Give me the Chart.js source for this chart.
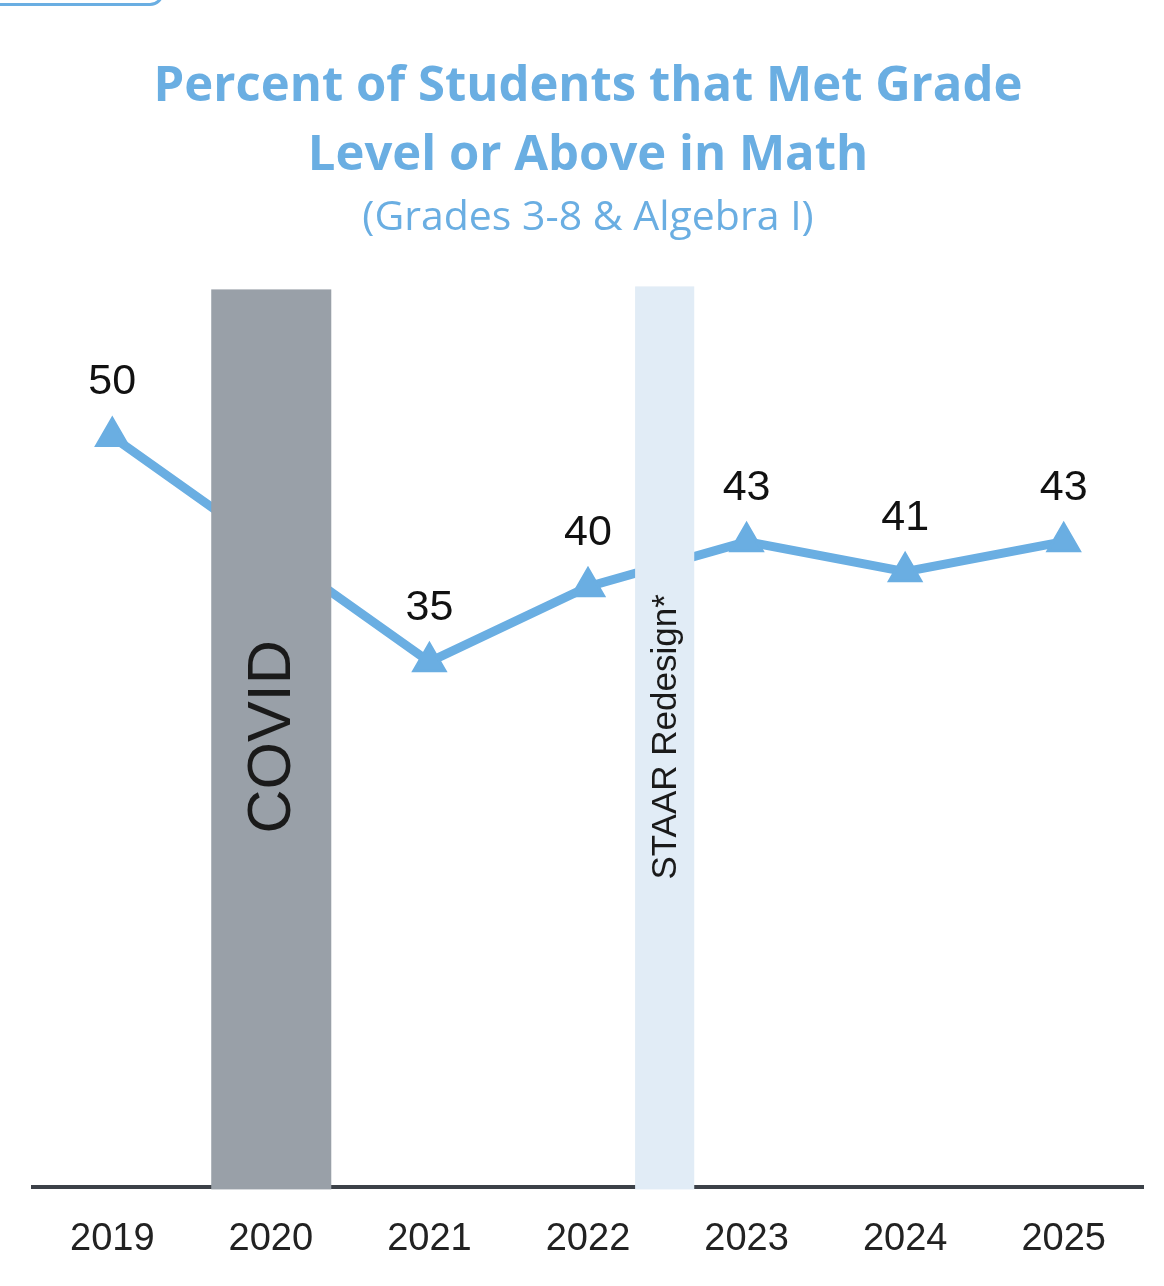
<!DOCTYPE html>
<html>
<head>
<meta charset="utf-8">
<script src="https://cdn.jsdelivr.net/npm/chart.js@4/dist/chart.umd.min.js"></script>
<style>
  html, body { margin: 0; padding: 0; background: #fff; }
  #wrap { position: relative; width: 1164px; height: 1286px; overflow: hidden; }
  #tab { position: absolute; left: -20px; top: -22px; width: 178px; height: 22px;
         border: 3px solid #6aaee2; border-radius: 14px; }
</style>
</head>
<body>
<div id="wrap">
  <div id="tab"></div>
  <canvas id="chart" width="1164" height="1320"></canvas>
</div>
<script>
const years = ['2019', '2020', '2021', '2022', '2023', '2024', '2025'];
const metGrade = [50, null, 35, 40, 43, 41, 43];

// shaded periods, in category units along x and value units along y
const bandNames = ['COVID', 'STAAR Redesign*'];
const bandFrom = [0.624, 3.297];
const bandTo = [1.381, 3.67];
const bandTop = [59.8, 60];

const BLUE = '#6aaee2';

const bandsPlugin = {
    id: 'bands',
    afterDatasetsDraw(chart) {
        const { ctx, scales: { x, y } } = chart;
        const fills = ['#99a0a8', '#e1ecf6'];
        const fonts = ['61px "Liberation Sans", Arial, sans-serif', '35px "Liberation Sans", Arial, sans-serif'];
        bandNames.forEach((name, i) => {
            const left = x.getPixelForValue(bandFrom[i]);
            const right = x.getPixelForValue(bandTo[i]);
            const top = y.getPixelForValue(bandTop[i]);
            const bottom = y.getPixelForValue(0) + 2;
            ctx.save();
            ctx.fillStyle = fills[i];
            ctx.fillRect(left, top, right - left, bottom - top);
            // vertical label
            ctx.translate((left + right) / 2 + 2, y.getPixelForValue(30));
            ctx.rotate(-Math.PI / 2);
            ctx.font = fonts[i];
            ctx.fillStyle = '#1a1a1a';
            ctx.textAlign = 'center';
            ctx.textBaseline = 'middle';
            ctx.fillText(name, 0, 0);
            ctx.restore();
        });
    }
};

const valueLabels = {
    id: 'valueLabels',
    afterDatasetsDraw(chart) {
        const { ctx } = chart;
        const meta = chart.getDatasetMeta(0);
        ctx.save();
        ctx.font = '43px "Liberation Sans", Arial, sans-serif';
        ctx.fillStyle = '#111';
        ctx.textAlign = 'center';
        ctx.textBaseline = 'middle';
        meta.data.forEach((pt, i) => {
            if (metGrade[i] == null) return;
            ctx.fillText(String(metGrade[i]), pt.x, pt.y - 54);
        });
        ctx.restore();
    }
};

const canvas = document.getElementById('chart');
new Chart(canvas, {
    type: 'line',
    data: {
        labels: years,
        datasets: [{
            data: metGrade,
            borderColor: BLUE,
            backgroundColor: BLUE,
            borderWidth: 9,
            pointStyle: 'triangle',
            pointRadius: 18,
            pointBorderWidth: 3,
            pointBorderColor: BLUE,
            pointBackgroundColor: BLUE,
            spanGaps: true,
            tension: 0
        }]
    },
    options: {
        responsive: false,
        animation: false,
        layout: { padding: { left: 33, right: 21, top: 0, bottom: 29 } },
        scales: {
            x: {
                offset: true,
                grid: { display: false, drawTicks: false },
                border: { display: true, color: '#3c4148', width: 4 },
                ticks: {
                    color: '#222',
                    padding: 29,
                    font: { family: '"Liberation Sans", Arial, sans-serif', size: 38 }
                }
            },
            y: {
                display: false,
                min: 0,
                max: 60
            }
        },
        plugins: {
            legend: { display: false },
            tooltip: { enabled: false },
            title: {
                display: true,
                text: ['Percent of Students that Met Grade', 'Level or Above in Math'],
                color: BLUE,
                font: { family: '"Open Sans", Inter, sans-serif', size: 49, weight: 'bold', lineHeight: 1.4 },
                padding: { top: 53, bottom: 4 }
            },
            subtitle: {
                display: true,
                text: '(Grades 3-8 & Algebra I)',
                color: BLUE,
                font: { family: '"Open Sans", Inter, sans-serif', size: 41, weight: 'normal', lineHeight: 1.2 },
                padding: { top: 0, bottom: 43 }
            }
        }
    },
    plugins: [bandsPlugin, valueLabels]
});
</script>
</body>
</html>
